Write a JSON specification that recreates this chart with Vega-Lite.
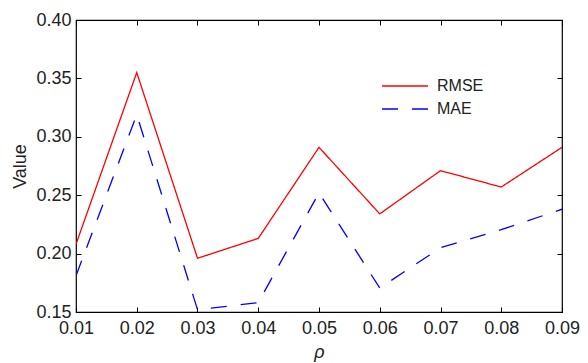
{
  "$schema": "https://vega.github.io/schema/vega-lite/v6.json",
  "width": 486,
  "height": 292,
  "autosize": "none",
  "padding": {"left": 76, "top": 20, "right": 26, "bottom": 51},
  "background": "white",
  "config": {
    "font": "Liberation Sans",
    "view": {"stroke": "#000000", "strokeWidth": 1.2},
    "axis": {
      "grid": false,
      "domain": false,
      "tickColor": "#000000",
      "tickSize": -5,
      "tickWidth": 1,
      "labelFont": "Liberation Sans",
      "labelFontSize": 18,
      "labelColor": "#222222",
      "titleFont": "Liberation Sans",
      "titleFontSize": 18,
      "titleFontWeight": "normal",
      "titleColor": "#222222"
    }
  },
  "data": {
    "values": [
      {"rho": 0.01, "series": "RMSE", "value": 0.208},
      {"rho": 0.02, "series": "RMSE", "value": 0.355},
      {"rho": 0.03, "series": "RMSE", "value": 0.196},
      {"rho": 0.04, "series": "RMSE", "value": 0.213},
      {"rho": 0.05, "series": "RMSE", "value": 0.291},
      {"rho": 0.06, "series": "RMSE", "value": 0.234},
      {"rho": 0.07, "series": "RMSE", "value": 0.271},
      {"rho": 0.08, "series": "RMSE", "value": 0.257},
      {"rho": 0.09, "series": "RMSE", "value": 0.291},
      {"rho": 0.01, "series": "MAE", "value": 0.181},
      {"rho": 0.02, "series": "MAE", "value": 0.319},
      {"rho": 0.03, "series": "MAE", "value": 0.152},
      {"rho": 0.04, "series": "MAE", "value": 0.158},
      {"rho": 0.05, "series": "MAE", "value": 0.252},
      {"rho": 0.06, "series": "MAE", "value": 0.1705},
      {"rho": 0.07, "series": "MAE", "value": 0.205},
      {"rho": 0.08, "series": "MAE", "value": 0.2205},
      {"rho": 0.09, "series": "MAE", "value": 0.238}
    ]
  },
  "layer": [
    {
      "mark": {"type": "line", "strokeWidth": 1.3, "clip": true},
      "encoding": {
        "x": {
          "field": "rho", "type": "quantitative",
          "scale": {"domain": [0.01, 0.09], "nice": false, "zero": false},
          "axis": {
            "orient": "bottom",
            "values": [0.01, 0.02, 0.03, 0.04, 0.05, 0.06, 0.07, 0.08, 0.09],
            "format": ".2f",
            "labelPadding": 12,
            "labelFlush": false,
            "title": "ρ",
            "titleFontStyle": "italic",
            "titlePadding": 6
          }
        },
        "y": {
          "field": "value", "type": "quantitative",
          "scale": {"domain": [0.15, 0.40], "nice": false, "zero": false},
          "axis": {
            "orient": "left",
            "values": [0.15, 0.20, 0.25, 0.30, 0.35, 0.40],
            "format": ".2f",
            "labelPadding": 10,
            "labelFlush": false,
            "title": "Value",
            "titlePadding": 6
          }
        },
        "color": {
          "field": "series", "type": "nominal",
          "scale": {"domain": ["RMSE", "MAE"], "range": ["#ff0000", "#0000ff"]},
          "legend": {
            "title": null,
            "orient": "none",
            "legendX": 321,
            "legendY": 58,
            "symbolType": "M-5,0H5",
            "symbolSize": 84.6,
            "symbolStrokeWidth": 1.3,
            "symbolFillColor": "transparent",
            "labelFontSize": 16,
            "labelFont": "Liberation Sans",
            "labelColor": "#222222",
            "labelOffset": 24,
            "rowPadding": 7,
            "padding": 0
          }
        },
        "strokeDash": {
          "field": "series", "type": "nominal",
          "scale": {"domain": ["RMSE", "MAE"], "range": [[1, 0], [16, 14]]},
          "legend": {
            "title": null,
            "orient": "none",
            "legendX": 321,
            "legendY": 58,
            "symbolType": "M-5,0H5",
            "symbolSize": 84.6,
            "symbolStrokeWidth": 1.3,
            "symbolFillColor": "transparent",
            "labelFontSize": 16,
            "labelFont": "Liberation Sans",
            "labelColor": "#222222",
            "labelOffset": 24,
            "rowPadding": 7,
            "padding": 0
          }
        }
      }
    },
    {
      "mark": {"type": "line", "opacity": 0},
      "encoding": {
        "x": {
          "field": "rho", "type": "quantitative",
          "scale": {"domain": [0.01, 0.09], "nice": false, "zero": false},
          "axis": {
            "orient": "top",
            "values": [0.01, 0.02, 0.03, 0.04, 0.05, 0.06, 0.07, 0.08, 0.09],
            "labels": false,
            "title": null
          }
        },
        "y": {
          "field": "value", "type": "quantitative",
          "scale": {"domain": [0.15, 0.40], "nice": false, "zero": false},
          "axis": {
            "orient": "right",
            "values": [0.15, 0.20, 0.25, 0.30, 0.35, 0.40],
            "labels": false,
            "title": null
          }
        },
        "detail": {"field": "series", "type": "nominal"}
      }
    }
  ],
  "resolve": {"axis": {"x": "independent", "y": "independent"}}
}
